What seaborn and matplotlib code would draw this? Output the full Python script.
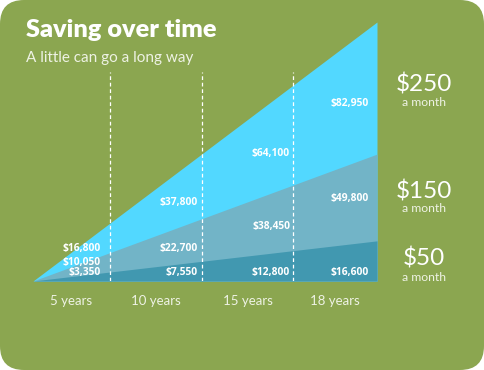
import numpy as np
import pandas as pd
import matplotlib
matplotlib.use("Agg")
import matplotlib.pyplot as plt
import seaborn as sns
from matplotlib.patches import FancyBboxPatch
import matplotlib.transforms as mtransforms

# ---------------- data ----------------
title = "Saving over time"
subtitle = "A little can go a long way"
year_labels = ["5 years", "10 years", "15 years", "18 years"]
plans = ["$250", "$150", "$50"]
plan_sub = "a month"
# heights of each stacked triangle at the right edge (0-100 visual scale)
stack_heights = [100, 49, 15.5]
values_250 = [16800, 37800, 64100, 82950]
values_150 = [10050, 22700, 38450, 49800]
values_50 = [3350, 7550, 12800, 16600]

# ---------------- layout / style ----------------
W, H = 484, 370
green = "#8BA650"
area_colors = ["#52D8FF", "#72B4C7", "#4198B0"]
panel_edges = [0.224, 0.491, 0.756, 1.0]
label_y = [  # y positions (0-100 scale) for value labels per column, rows = plans
    [12.4, 30.5, 49.4, 68.7],
    [7.3, 12.4, 21.2, 31.7],
    [3.1, 3.1, 3.1, 3.1],
]
label_dx = [-9, -4, -3, -8]  # pixel offsets from panel edge
plan_y = [76, 34.7, 8.5]
plan_sub_y = [69.1, 27.8, 1.5]

sns.set_theme(style="white")
plt.rcParams["font.family"] = ["Lato", "DejaVu Sans"]

fig = plt.figure(figsize=(W / 100, H / 100), dpi=100)
fig.patch.set_facecolor("white")

# background rounded panel
bg = fig.add_axes([0, 0, 1, 1])
bg.set_xlim(0, W)
bg.set_ylim(0, H)
bg.axis("off")
bg.add_patch(FancyBboxPatch((0, 0), W, H, boxstyle="round,pad=0,rounding_size=24",
                            facecolor=green, edgecolor="none"))

ax = fig.add_axes([33 / W, (H - 281) / H, 344 / W, 259 / H])
ax.set_xlim(0, 1)
ax.set_ylim(0, 100)
ax.patch.set_alpha(0)
for s in ax.spines.values():
    s.set_visible(False)

x = np.array([0.0, 1.0])
df = pd.DataFrame({
    "x": np.tile(x, len(plans)),
    "y": np.concatenate([[0, h] for h in stack_heights]),
    "plan": np.repeat(plans, 2),
})
for plan, h, c in zip(plans, stack_heights, area_colors):
    sub = df[df.plan == plan]
    ax.fill_between(sub.x, 0, sub.y, color=c, linewidth=0, zorder=1)
    sns.lineplot(data=sub, x="x", y="y", color=c, linewidth=0, ax=ax, zorder=1)

# dashed dividers
for e in panel_edges[:-1]:
    ax.plot([e, e], [0, 0.807 * 100], color="white", lw=0.9, ls=(0, (3, 2.2)), zorder=3)

# value labels
all_vals = [values_250, values_150, values_50]
for r, vals in enumerate(all_vals):
    for cidx, v in enumerate(vals):
        tr = ax.transData + mtransforms.ScaledTranslation(label_dx[cidx] / 100, 0, fig.dpi_scale_trans)
        ax.text(panel_edges[cidx], label_y[r][cidx], f"${v:,}", transform=tr,
                ha="right", va="center", color="white", fontsize=7.4, fontweight="bold",
                family=["Open Sans", "DejaVu Sans"], zorder=4)

# year ticks
centers = [(a + b) / 2 for a, b in zip([0] + panel_edges[:-1], panel_edges)]
ax.set_xticks(centers)
ax.set_xticklabels(year_labels, fontsize=9.5, color="#EEF2E4")
ax.tick_params(axis="x", length=0, pad=10)
ax.set_yticks([])
ax.set_xlabel("")
ax.set_ylabel("")

# plan labels at right
for p, py, sy in zip(plans, plan_y, plan_sub_y):
    ax.text(1.137, py, p, transform=ax.get_yaxis_transform(), ha="center", va="center",
            color="white", fontsize=17.5, fontweight="normal", clip_on=False)
    ax.text(1.137, sy, plan_sub, transform=ax.get_yaxis_transform(), ha="center", va="center",
            color="#EEF2E4", fontsize=8.8, fontweight="normal", clip_on=False)

fig.text(26 / W, 1 - 37 / H, title, ha="left", va="baseline", color="white",
         fontsize=18.2, fontweight="heavy")
fig.text(26 / W, 1 - 62 / H, subtitle, ha="left", va="baseline", color="#EEF2E4",
         fontsize=11, fontweight="normal")

fig.savefig("out.png", dpi=100, facecolor="white")
